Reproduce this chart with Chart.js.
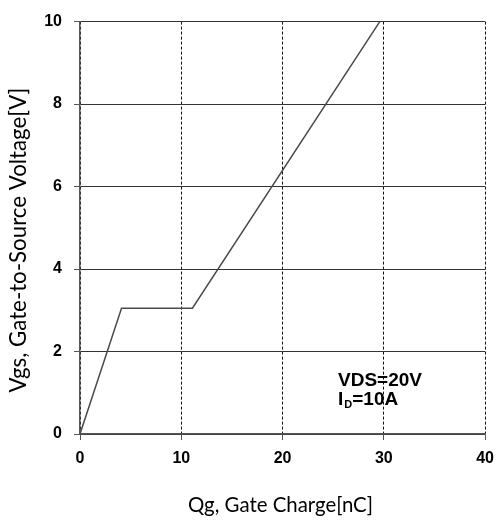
<!DOCTYPE html>
<html>
<head>
<meta charset="utf-8">
<script src="https://cdn.jsdelivr.net/npm/chart.js@4/dist/chart.umd.min.js"></script>
<style>
  html, body { margin: 0; padding: 0; background: #fff; }
  #wrap { width: 503px; height: 525px; }
</style>
</head>
<body>
<div id="wrap"><canvas id="c" width="503" height="525"></canvas></div>
<script>
// Data
const gateChargeNC = [0, 4.1, 11.1, 29.6];
const gateVoltageV = [0, 3.05, 3.05, 10];
const xTicks = [0, 10, 20, 30, 40];
const yTicks = [0, 2, 4, 6, 8, 10];
const xTitle = 'Qg, Gate Charge[nC]';
const yTitle = 'Vgs, Gate-to-Source Voltage[V]';
const noteLine1 = 'VDS=20V';
const noteLine2 = ['I', 'D', '=10A'];

const titleFont = 'Lato, "Open Sans", sans-serif';
const tickFont = { family: '"Liberation Sans", Arial, sans-serif', size: 16, weight: 'bold' };

function fitFont(ctx, text, targetWidth, family) {
  ctx.font = '20px ' + family;
  const w = ctx.measureText(text).width;
  return 20 * targetWidth / w;
}

const textPlugin = {
  id: 'textPlugin',
  afterDraw(chart) {
    const ctx = chart.ctx;
    const area = chart.chartArea;
    ctx.save();
    ctx.fillStyle = '#000';
    // X axis title
    let fs = fitFont(ctx, xTitle, 185, titleFont);
    ctx.font = fs.toFixed(2) + 'px ' + titleFont;
    ctx.textAlign = 'center';
    ctx.textBaseline = 'alphabetic';
    ctx.fillText(xTitle, 280.5, 512);
    // Y axis title
    fs = fitFont(ctx, yTitle, 305, titleFont);
    ctx.font = fs.toFixed(2) + 'px ' + titleFont;
    ctx.save();
    ctx.translate(26, 240);
    ctx.rotate(-Math.PI / 2);
    ctx.textAlign = 'center';
    ctx.fillText(yTitle, 0, 0);
    ctx.restore();
    // Annotation
    ctx.textAlign = 'left';
    ctx.font = 'bold 19px "Liberation Sans", Arial, sans-serif';
    ctx.fillText(noteLine1, 338, 386);
    let x = 338;
    ctx.fillText(noteLine2[0], x, 405);
    x += ctx.measureText(noteLine2[0]).width + 1;
    ctx.font = 'bold 11px "Liberation Sans", Arial, sans-serif';
    ctx.fillText(noteLine2[1], x, 408);
    x += ctx.measureText(noteLine2[1]).width;
    ctx.font = 'bold 19px "Liberation Sans", Arial, sans-serif';
    ctx.fillText(noteLine2[2], x, 405);
    ctx.restore();
  }
};

new Chart(document.getElementById('c'), {
  type: 'line',
  data: {
    datasets: [{
      data: gateChargeNC.map((q, i) => ({ x: q, y: gateVoltageV[i] })),
      borderColor: '#4a4a4a',
      borderWidth: 1.5,
      pointRadius: 0,
      tension: 0,
      fill: false
    }]
  },
  options: {
    responsive: false,
    animation: false,
    devicePixelRatio: 1,
    layout: { padding: { left: 0, top: 13, right: 14, bottom: 0 } },
    plugins: { legend: { display: false }, tooltip: { enabled: false } },
    scales: {
      x: {
        type: 'linear',
        min: xTicks[0],
        max: xTicks[xTicks.length - 1],
        afterBuildTicks: (s) => { s.ticks = xTicks.map(v => ({ value: v })); },
        ticks: { font: tickFont, color: '#000', padding: 9, maxRotation: 0 },
        grid: { color: '#111', lineWidth: 1, tickLength: 6, tickColor: '#555', tickWidth: 1 },
        border: { display: true, color: '#555', width: 1.5, dash: [3, 2] },
        afterFit: (s) => { s.height = 91; }
      },
      y: {
        type: 'linear',
        min: yTicks[0],
        max: yTicks[yTicks.length - 1],
        afterBuildTicks: (s) => { s.ticks = yTicks.map(v => ({ value: v })); },
        ticks: { font: tickFont, color: '#000', padding: 12 },
        grid: { color: '#333', lineWidth: 1, tickLength: 6, tickColor: '#555', tickWidth: 1 },
        border: { display: true, color: '#555', width: 1.5 },
        afterFit: (s) => { s.width = 80; }
      }
    }
  },
  plugins: [textPlugin]
});
</script>
</body>
</html>
